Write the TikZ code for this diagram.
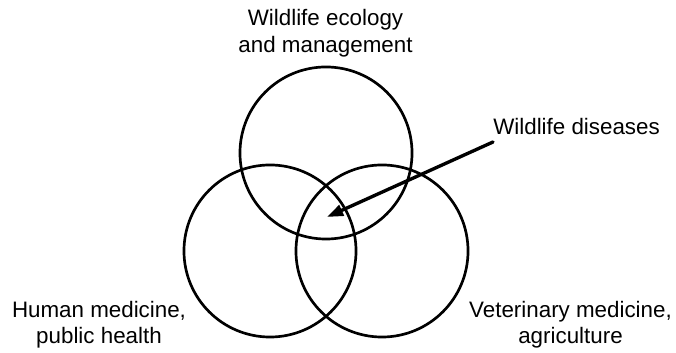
\documentclass[tikz,border=0pt]{standalone}
\usepackage{fontspec}
\setmainfont{Liberation Sans}
\usetikzlibrary{arrows.meta}

\begin{document}
\begin{tikzpicture}[line cap=round,line join=round,x=0.025cm,y=0.025cm,
	venn/.style={circle,draw,line width=1.9pt,minimum size=4.3cm,inner sep=0pt},
	lbl/.style={align=center,inner sep=0pt,font=\fontsize{15.9}{18.6}\selectfont},
	pointer/.style={-{Triangle[length=11.5pt,width=8pt]},line width=2.4pt}]
	\useasboundingbox (0,0) rectangle (676,353);
	% the three fields
	\node[venn] (wild) at (326,200) {};
	\node[venn] (human) at (270,102) {};
	\node[venn] (vet) at (382,102) {};
	% field names
	\node[lbl,font=\fontsize{15.9}{19.2}\selectfont] (wildtxt) at (325.5,320) {Wildlife ecology\\and management};
	\node[lbl] (humantxt) at (99,28) {Human medicine,\\public health};
	\node[lbl] (vettxt) at (570.5,28) {Veterinary medicine,\\agriculture};
	\node[lbl,anchor=base west] (distxt) at (493,218) {Wildlife diseases};
	% arrow into the common part
	\coordinate (tail) at (493,211);
	\coordinate (core) at (327,136);
	\draw[pointer] (tail) -- (core);
\end{tikzpicture}
\end{document}
